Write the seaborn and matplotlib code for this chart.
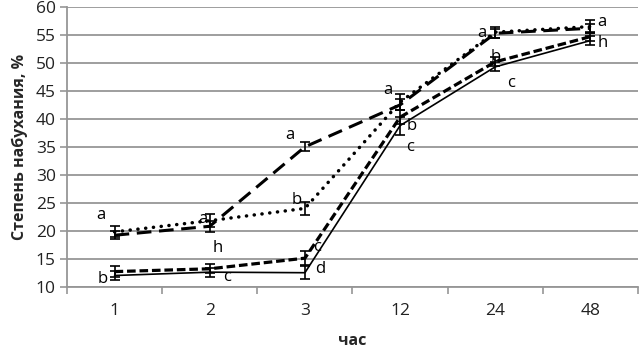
import matplotlib
matplotlib.use("Agg")
import matplotlib.pyplot as plt
import seaborn as sns
import pandas as pd

# ---- data ----
hours = ["1", "2", "3", "12", "24", "48"]
series_names = ["A", "B", "C", "D"]
val_A = [19.2, 20.8, 35.0, 42.5, 55.3, 56.2]   # long dash
val_B = [19.8, 21.8, 24.0, 43.0, 55.5, 56.5]   # dotted
val_C = [12.7, 13.2, 15.1, 40.3, 50.2, 54.7]   # short dash
val_D = [12.0, 12.6, 12.5, 38.8, 49.3, 54.0]   # solid
err_A = [0.7, 1.0, 0.8, 1.0, 0.8, 0.8]
err_B = [1.0, 1.2, 1.2, 1.4, 1.0, 1.2]
err_C = [1.0, 0.8, 1.2, 1.3, 0.8, 0.8]
err_D = [0.8, 0.8, 1.2, 1.6, 0.8, 0.8]

# significance letters: (hour index, series, letter)
letters = [
    (0, "B", "a"), (0, "D", "b"),
    (1, "B", "a"), (1, "A", "h"), (1, "D", "c"),
    (2, "A", "a"), (2, "B", "b"), (2, "C", "c"), (2, "D", "d"),
    (3, "B", "a"), (3, "C", "b"), (3, "D", "c"),
    (4, "B", "a"), (4, "C", "b"), (4, "D", "c"),
    (5, "B", "a"), (5, "C", "h"),
]
# offsets in pixels (dx right, dy down)
letter_offsets = [
    (-14, -17), (-12, 3),
    (-7, -2), (8, 22), (17, 5),
    (-15, -12), (-8, -8), (12, -11), (15, -4),
    (-12, -12), (12, 9), (10, 21),
    (-13, 1), (0, -5), (16, 16),
    (11, -5), (12, 6),
]

vals = {"A": val_A, "B": val_B, "C": val_C, "D": val_D}
errs = {"A": err_A, "B": err_B, "C": err_C, "D": err_D}

rows = []
for s in series_names:
    for h, v, e in zip(hours, vals[s], errs[s]):
        rows.append({"hour": h, "value": v, "err": e, "series": s})
df = pd.DataFrame(rows)

sns.set_theme(style="white")
plt.rcParams["font.family"] = ["Open Sans", "DejaVu Sans"]

fig = plt.figure(figsize=(6.4, 3.52), dpi=100)
ax = fig.add_axes([67 / 640, 1 - 286.7 / 352, (638 - 67) / 640, (286.7 - 7) / 352])

styles = {
    "A": dict(linestyle=(0, (4.8, 2.5)), linewidth=2.2, dash_capstyle="butt"),
    "B": dict(linestyle=(0, (0.05, 2.2)), linewidth=2.5, dash_capstyle="round"),
    "C": dict(linestyle=(0, (2.7, 1.2)), linewidth=2.3, dash_capstyle="butt"),
    "D": dict(linestyle="-", linewidth=1.2),
}

for s in series_names:
    sub = df[df["series"] == s]
    sns.lineplot(data=sub, x="hour", y="value", ax=ax, color="black",
                 sort=False, errorbar=None, zorder=3, **styles[s])
    ax.errorbar(sub["hour"], sub["value"], yerr=sub["err"], fmt="none",
                ecolor="black", elinewidth=1.2, capsize=3.5, capthick=1.2, zorder=4)

px = 0.72  # points per pixel
for (i, s, t), (dx, dy) in zip(letters, letter_offsets):
    ax.annotate(t, xy=(hours[i], vals[s][i]), xytext=(dx * px, -dy * px),
                textcoords="offset points", ha="center", va="center",
                fontsize=12, color="black", zorder=5, annotation_clip=False)

ax.set_xlim(-0.5, 5.5)
ax.set_ylim(10, 60)
ax.set_yticks(range(10, 61, 5))
ax.yaxis.grid(True, color="#969696", linewidth=1.3)
ax.set_axisbelow(True)
ax.xaxis.grid(False)
for side in ["top", "right"]:
    ax.spines[side].set_visible(False)
for side in ["left", "bottom"]:
    ax.spines[side].set_color("#969696")
    ax.spines[side].set_linewidth(1.3)

# x ticks at category boundaries, labels at centers
ax.set_xticks([i - 0.5 for i in range(len(hours) + 1)])
ax.set_xticklabels([])
ax.set_xticks(range(len(hours)), minor=True)
ax.set_xticklabels(hours, minor=True)
ax.tick_params(axis="x", which="major", direction="out", length=5, color="#969696", width=1.2, bottom=True)
ax.tick_params(axis="x", which="minor", length=0, pad=12, labelsize=12.5, labelcolor="#222222")
ax.tick_params(axis="y", direction="out", length=5, color="#969696", width=1.2, left=True,
               labelsize=12.5, labelcolor="#222222", pad=3)

ax.set_xlabel("час", fontsize=11.5, fontweight="bold", labelpad=10)
ax.set_ylabel("Степень набухания, %", fontsize=11.5, fontweight="bold", labelpad=6)

fig.savefig("out.png", dpi=100)
